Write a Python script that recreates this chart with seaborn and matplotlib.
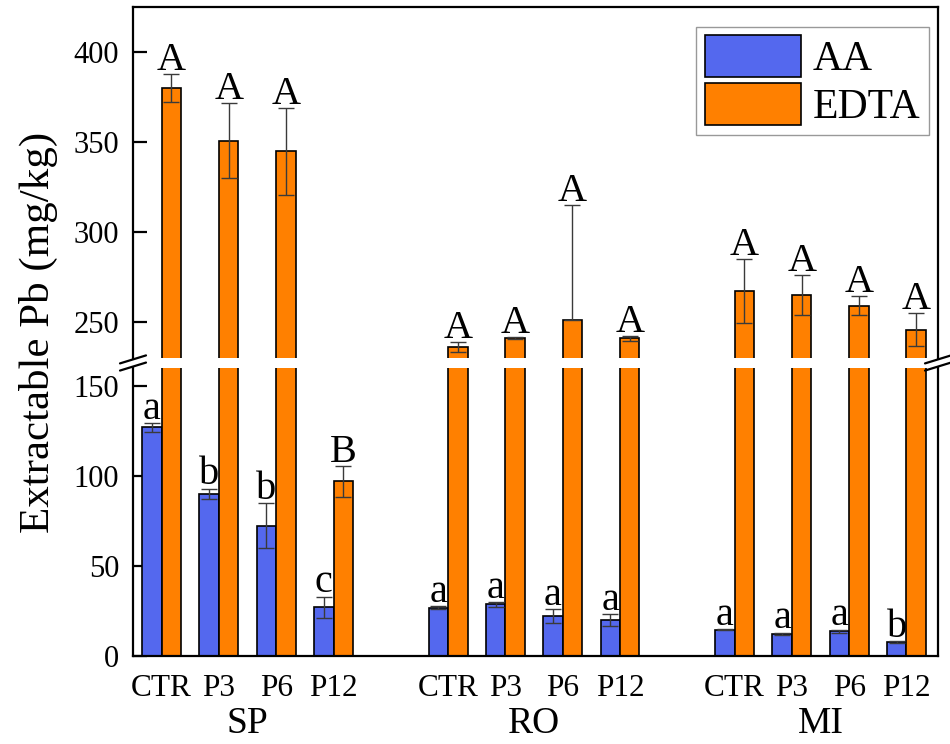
import numpy as np
import pandas as pd
import matplotlib
matplotlib.use("Agg")
import matplotlib.pyplot as plt
import matplotlib.transforms as mtransforms
from matplotlib.patches import Patch
import seaborn as sns

# ---------------- data ----------------
groups = ["SP", "RO", "MI"]
treatments = ["CTR", "P3", "P6", "P12"]
reagents = ["AA", "EDTA"]

aa_mean = [127.0, 90.2, 72.4, 27.0, 26.9, 28.7, 22.2, 19.8, 14.6, 12.4, 13.7, 7.8]
aa_err = [2.4, 2.8, 12.5, 6.0, 0.7, 1.4, 3.8, 3.4, 0.3, 0.6, 1.0, 0.5]
edta_mean = [380.1, 350.6, 344.8, 97.0, 236.1, 240.9, 251.3, 240.9, 267.3, 264.9, 259.1, 245.7]
edta_err_up = [7.7, 20.8, 24.0, 8.5, 2.6, 0.5, 63.8, 1.3, 17.6, 11.2, 5.3, 9.2]
edta_err_lo = [7.7, 20.8, 24.0, 8.5, 2.6, 0.5, 0.0, 1.3, 17.6, 11.2, 5.3, 9.2]
aa_letters = ["a", "b", "b", "c", "a", "a", "a", "a", "a", "a", "a", "b"]
edta_letters = ["A", "A", "A", "B", "A", "A", "A", "A", "A", "A", "A", "A"]

colors = {"AA": "#5468EE", "EDTA": "#FF8000"}

# ---------------- table ----------------
rows = []
for gi, g in enumerate(groups):
    for ti, t in enumerate(treatments):
        k = gi * len(treatments) + ti
        pos = gi * 5 + ti
        rows.append(dict(pos=pos, group=g, treatment=t, reagent="AA", value=aa_mean[k],
                         up=aa_err[k], lo=aa_err[k], letter=aa_letters[k]))
        rows.append(dict(pos=pos, group=g, treatment=t, reagent="EDTA", value=edta_mean[k],
                         up=edta_err_up[k], lo=edta_err_lo[k], letter=edta_letters[k]))
df = pd.DataFrame(rows)

sns.set_style("ticks")
plt.rcParams["font.family"] = ["Liberation Serif", "DejaVu Serif"]
plt.rcParams["text.color"] = "black"
plt.rcParams["xtick.color"] = "black"
plt.rcParams["ytick.color"] = "black"
plt.rcParams["xtick.labelcolor"] = "black"
plt.rcParams["ytick.labelcolor"] = "black"

fig = plt.figure(figsize=(9.5, 7.44), dpi=100)
W, H = 950.0, 744.0
x0, x1 = 133, 938
ax_top = fig.add_axes([x0 / W, 1 - 358 / H, (x1 - x0) / W, (358 - 7) / H])
ax_bot = fig.add_axes([x0 / W, 1 - 656 / H, (x1 - x0) / W, (656 - 368) / H])

for ax in (ax_top, ax_bot):
    sns.barplot(data=df, x="pos", y="value", hue="reagent", hue_order=reagents,
                palette=colors, native_scale=True, width=0.68, errorbar=None,
                edgecolor="black", linewidth=1.2, saturation=1, legend=False, ax=ax)
    for p in list(ax.patches):
        cx = p.get_x() + p.get_width() / 2
        h = p.get_height()
        pos = int(round(cx))
        rg = "AA" if cx < pos else "EDTA"
        r = df[(df.pos == pos) & (df.reagent == rg)].iloc[0]
        ax.errorbar(cx, h, yerr=[[r.lo], [r.up]], fmt="none", ecolor="#3a3a3a",
                    elinewidth=1.0, capsize=6, capthick=1.0, zorder=3)
        ax.annotate(r.letter, xy=(cx, h + r.up), xytext=(0, 3),
                    textcoords="offset points", ha="center", va="baseline",
                    fontsize=29, color="black")
    ax.set_xlim(-0.5, 13.55)
    ax.set_xlabel("")
    ax.set_ylabel("")
    for s in ax.spines.values():
        s.set_linewidth(1.6)
        s.set_color("black")
    ax.tick_params(axis="y", direction="in", length=10, width=1.6, labelsize=22,
                   pad=10, right=False, colors="black")

ax_top.set_ylim(230, 425)
ax_top.set_yticks([250, 300, 350, 400])
ax_top.spines["bottom"].set_visible(False)
ax_top.tick_params(axis="x", bottom=False, labelbottom=False)

ax_bot.set_ylim(0, 160)
ax_bot.set_yticks([0, 50, 100, 150])
ax_bot.spines["top"].set_visible(False)
positions = sorted(df.pos.unique())
ax_bot.set_xticks(positions)
ax_bot.set_xticklabels([df[df.pos == p].treatment.iloc[0] for p in positions])
ax_bot.tick_params(axis="x", length=0, labelsize=22.5, pad=13, colors="black")

trans = mtransforms.blended_transform_factory(ax_bot.transData, ax_bot.transAxes)
for g in groups:
    gx = df[df.group == g].pos.mean()
    ax_bot.text(gx, -0.268, g, transform=trans, ha="center", va="baseline", fontsize=27)

fig.text(38.5 / W, 1 - 332 / H, "Extractable Pb (mg/kg)", rotation=90,
         ha="center", va="center", fontsize=31)

# break marks
dx_top, dy_top = 13 / (x1 - x0), 4 / 351
dx_bot, dy_bot = 13 / (x1 - x0), 4 / 288
kw = dict(color="black", lw=1.6, clip_on=False)
for xx in (0, 1):
    ax_top.plot([xx - dx_top, xx + dx_top], [-dy_top - 0.004, dy_top - 0.004], transform=ax_top.transAxes, **kw)
    ax_bot.plot([xx - dx_bot, xx + dx_bot], [1 - dy_bot + 0.005, 1 + dy_bot + 0.005], transform=ax_bot.transAxes, **kw)

handles = [Patch(facecolor=colors[r], edgecolor="black", linewidth=1.2, label=r) for r in reagents]
leg = ax_top.legend(handles=handles, loc="upper right",
                    bbox_to_anchor=((929 - x0) / (x1 - x0), 1 - (27 - 7) / 351),
                    borderaxespad=0, fontsize=30, frameon=True, fancybox=False,
                    handlelength=2.3, handleheight=1.15, handletextpad=0.3,
                    labelspacing=0.1, borderpad=0.2)
leg.get_frame().set_edgecolor("#808080")
leg.get_frame().set_linewidth(1.0)

fig.savefig("out.png", dpi=100)
